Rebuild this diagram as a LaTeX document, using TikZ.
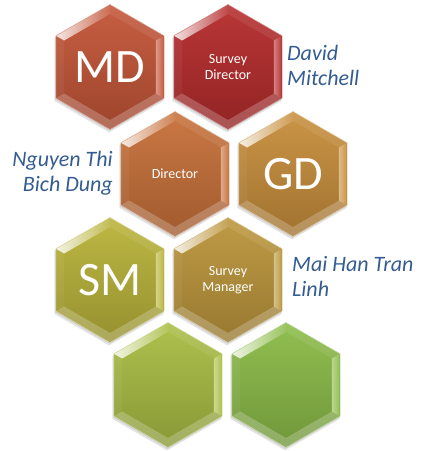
\documentclass[tikz,border=0pt]{standalone}
\usepackage{fontspec}
\setmainfont{Carlito}
\usetikzlibrary{shapes.geometric}
\definecolor{nameblue}{RGB}{52,92,145}
\definecolor{cMD}{RGB}{196,86,56}
\definecolor{cSD}{RGB}{182,44,44}
\definecolor{cDI}{RGB}{200,113,58}
\definecolor{cGD}{RGB}{200,143,60}
\definecolor{cSM}{RGB}{186,180,58}
\definecolor{cSG}{RGB}{188,150,60}
\definecolor{cLA}{RGB}{170,190,68}
\definecolor{cLB}{RGB}{140,188,72}
\tikzset{
  hexcell/.style={regular polygon, regular polygon sides=6, shape border rotate=30,
    minimum size=125pt, inner sep=0pt, text=white, align=center},
  bigtxt/.style={font=\fontsize{48}{50}\selectfont},
  smalltxt/.style={font=\fontsize{14}{16.5}\selectfont},
  person/.style={text=nameblue, font=\fontsize{22}{25}\selectfont\itshape, inner sep=0pt},
}
\newcommand\hexpath[1]{(90:#1)--(30:#1)--(-30:#1)--(-90:#1)--(-150:#1)--(150:#1)--cycle}
\newcommand\facet[3]{(#1:62pt)--(#2:62pt)--(#2:#3)--(#1:#3)--cycle}
\newcommand\hexcell[6]{%
  \begin{scope}[shift={(#2,#3)}]
    \begin{scope}[shift={(-1pt,-2.5pt)}]\fill[black,opacity=0.10] \hexpath{63pt};\end{scope}
    \begin{scope}[shift={(-0.5pt,-1.2pt)}]\fill[black,opacity=0.10] \hexpath{62.5pt};\end{scope}
    \node[hexcell, top color=#4!95!white, bottom color=#4!80!black,
      draw=#4!45!white, line width=0.5pt, #5] (#1) at (0,0) {};
    \shade[left color=white, right color=#4!85!white, opacity=0.85] \facet{150}{90}{53pt};
    \fill[white,opacity=0.08] \facet{90}{30}{53pt};
    \shade[left color=#4!60!white, right color=#4!95!white] \facet{30}{-30}{53pt};
    \fill[white,opacity=0.22] \facet{-30}{-90}{53pt};
    \fill[white,opacity=0.22] \facet{-90}{-150}{53pt};
    \fill[white,opacity=0.05] \facet{-150}{150}{53pt};
    \node[text=white, align=center, #5] at (0,0) {#6};
  \end{scope}}
\begin{document}
\begin{tikzpicture}[x=1pt,y=1pt]
\useasboundingbox (0,0) rectangle (422,451);
\hexcell{md}{110}{384}{cMD}{bigtxt}{MD}
\hexcell{sd}{228}{384}{cSD}{smalltxt}{Survey\\Director}
\hexcell{di}{175}{277}{cDI}{smalltxt}{Director}
\hexcell{gd}{293}{277}{cGD}{bigtxt}{GD}
\hexcell{sm}{110}{171}{cSM}{bigtxt}{SM}
\hexcell{sg}{228}{171}{cSG}{smalltxt}{Survey\\Manager}
\hexcell{la}{168}{66}{cLA}{}{}
\hexcell{lb}{286}{66}{cLB}{}{}
\node[person, anchor=base west, align=left] (dm) at (287,365) {David\\Mitchell};
\node[person, anchor=base east, align=right] (ntbd) at (113,259) {Nguyen Thi\\Bich Dung};
\node[person, anchor=base west, align=left] (mhtl) at (292,154) {Mai Han Tran\\Linh};
\end{tikzpicture}
\end{document}
